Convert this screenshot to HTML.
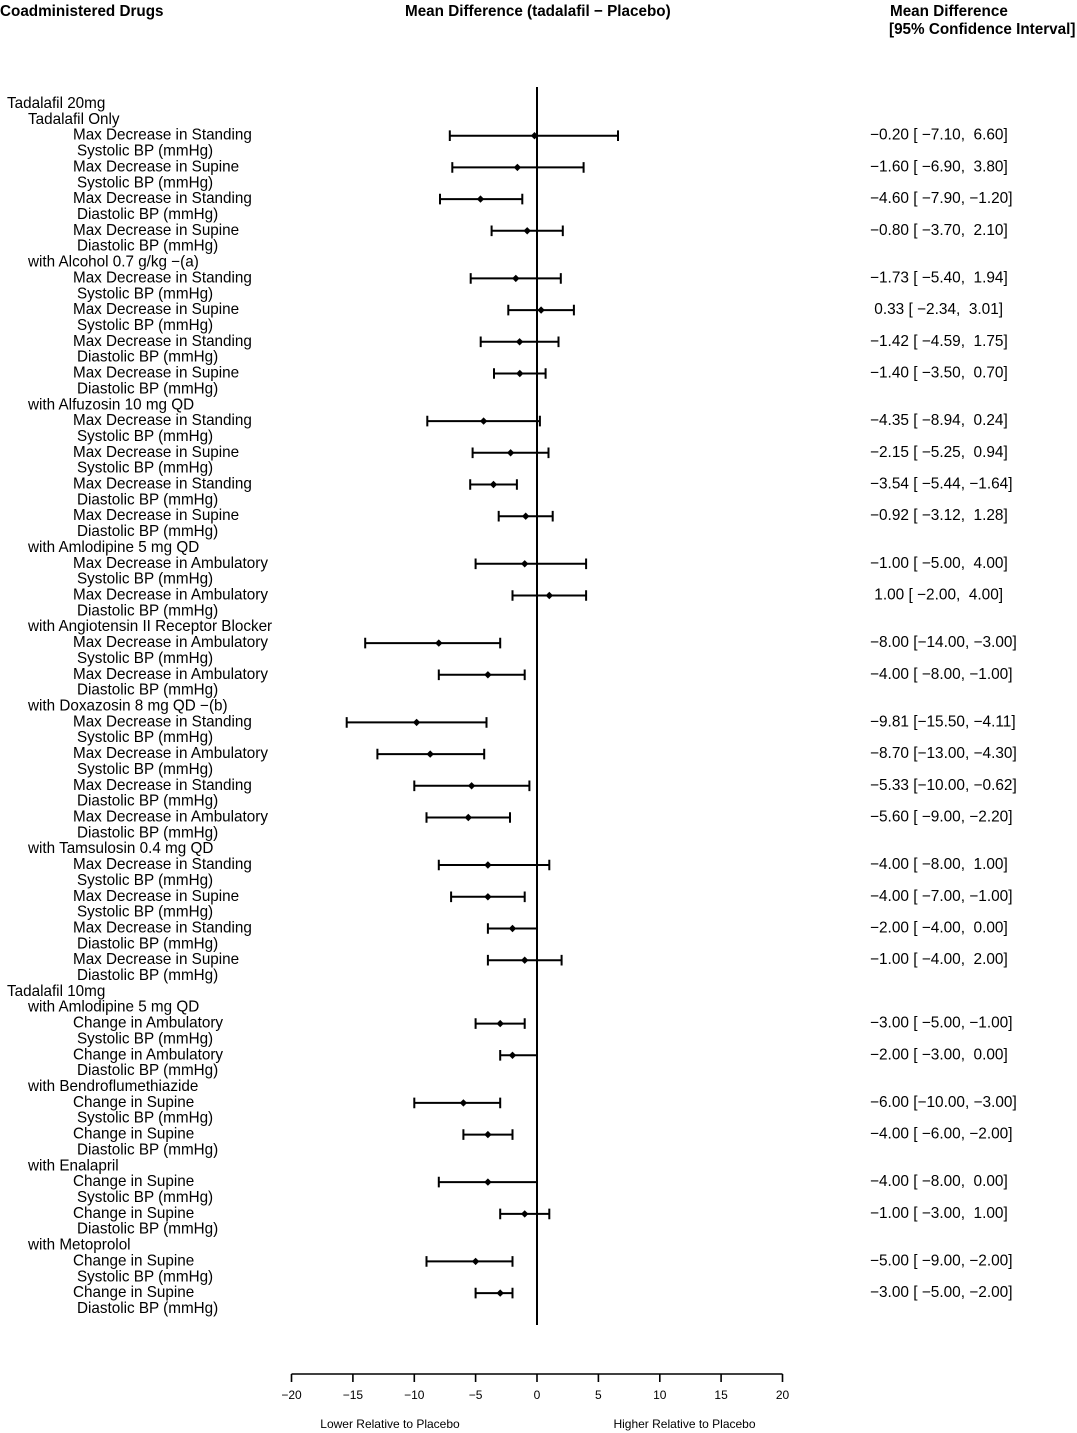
<!DOCTYPE html>
<html>
<head>
<meta charset="utf-8">
<style>
html,body{margin:0;padding:0;background:#fff;}
svg{display:block;}
text{font-family:"Liberation Sans",Arial,sans-serif;fill:#000;}
.h{font-weight:bold;font-size:15.25px;}
.l{font-size:15.25px;}
.v{font-size:15.4px;}
.t{font-size:12px;}
</style>
</head>
<body>
<svg width="1077" height="1433" viewBox="0 0 1077 1433" xmlns="http://www.w3.org/2000/svg">
<defs>
<path id="d" d="M0,-3.7 L3.7,0 L0,3.7 L-3.7,0Z" fill="#000"/>
</defs>
<rect width="1077" height="1433" fill="#fff"/>
<!-- headers -->
<text class="h" x="0" y="16">Coadministered Drugs</text>
<text class="h" x="405" y="16">Mean Difference (tadalafil − Placebo)</text>
<text class="h" x="890" y="16">Mean Difference</text>
<text class="h" x="889" y="34">[95% Confidence Interval]</text>

<!-- left labels -->
<g class="l">
<text class="l" x="7" y="108">Tadalafil 20mg</text>
<text class="l" x="28" y="123.9">Tadalafil Only</text>
<text class="l" x="73" y="139.7">Max Decrease in Standing</text>
<text class="l" x="77" y="155.6">Systolic BP (mmHg)</text>
<text class="l" x="73" y="171.4">Max Decrease in Supine</text>
<text class="l" x="77" y="187.3">Systolic BP (mmHg)</text>
<text class="l" x="73" y="203.1">Max Decrease in Standing</text>
<text class="l" x="77" y="219">Diastolic BP (mmHg)</text>
<text class="l" x="73" y="234.8">Max Decrease in Supine</text>
<text class="l" x="77" y="250.7">Diastolic BP (mmHg)</text>
<text class="l" x="28" y="266.6">with Alcohol 0.7 g/kg −(a)</text>
<text class="l" x="73" y="282.4">Max Decrease in Standing</text>
<text class="l" x="77" y="298.3">Systolic BP (mmHg)</text>
<text class="l" x="73" y="314.1">Max Decrease in Supine</text>
<text class="l" x="77" y="330">Systolic BP (mmHg)</text>
<text class="l" x="73" y="345.8">Max Decrease in Standing</text>
<text class="l" x="77" y="361.7">Diastolic BP (mmHg)</text>
<text class="l" x="73" y="377.5">Max Decrease in Supine</text>
<text class="l" x="77" y="393.4">Diastolic BP (mmHg)</text>
<text class="l" x="28" y="409.3">with Alfuzosin 10 mg QD</text>
<text class="l" x="73" y="425.1">Max Decrease in Standing</text>
<text class="l" x="77" y="441">Systolic BP (mmHg)</text>
<text class="l" x="73" y="456.8">Max Decrease in Supine</text>
<text class="l" x="77" y="472.7">Systolic BP (mmHg)</text>
<text class="l" x="73" y="488.5">Max Decrease in Standing</text>
<text class="l" x="77" y="504.4">Diastolic BP (mmHg)</text>
<text class="l" x="73" y="520.2">Max Decrease in Supine</text>
<text class="l" x="77" y="536.1">Diastolic BP (mmHg)</text>
<text class="l" x="28" y="551.9">with Amlodipine 5 mg QD</text>
<text class="l" x="73" y="567.8">Max Decrease in Ambulatory</text>
<text class="l" x="77" y="583.7">Systolic BP (mmHg)</text>
<text class="l" x="73" y="599.5">Max Decrease in Ambulatory</text>
<text class="l" x="77" y="615.4">Diastolic BP (mmHg)</text>
<text class="l" x="28" y="631.2">with Angiotensin II Receptor Blocker</text>
<text class="l" x="73" y="647.1">Max Decrease in Ambulatory</text>
<text class="l" x="77" y="662.9">Systolic BP (mmHg)</text>
<text class="l" x="73" y="678.8">Max Decrease in Ambulatory</text>
<text class="l" x="77" y="694.6">Diastolic BP (mmHg)</text>
<text class="l" x="28" y="710.5">with Doxazosin 8 mg QD −(b)</text>
<text class="l" x="73" y="726.4">Max Decrease in Standing</text>
<text class="l" x="77" y="742.2">Systolic BP (mmHg)</text>
<text class="l" x="73" y="758.1">Max Decrease in Ambulatory</text>
<text class="l" x="77" y="773.9">Systolic BP (mmHg)</text>
<text class="l" x="73" y="789.8">Max Decrease in Standing</text>
<text class="l" x="77" y="805.6">Diastolic BP (mmHg)</text>
<text class="l" x="73" y="821.5">Max Decrease in Ambulatory</text>
<text class="l" x="77" y="837.3">Diastolic BP (mmHg)</text>
<text class="l" x="28" y="853.2">with Tamsulosin 0.4 mg QD</text>
<text class="l" x="73" y="869">Max Decrease in Standing</text>
<text class="l" x="77" y="884.9">Systolic BP (mmHg)</text>
<text class="l" x="73" y="900.8">Max Decrease in Supine</text>
<text class="l" x="77" y="916.6">Systolic BP (mmHg)</text>
<text class="l" x="73" y="932.5">Max Decrease in Standing</text>
<text class="l" x="77" y="948.3">Diastolic BP (mmHg)</text>
<text class="l" x="73" y="964.2">Max Decrease in Supine</text>
<text class="l" x="77" y="980">Diastolic BP (mmHg)</text>
<text class="l" x="7" y="995.9">Tadalafil 10mg</text>
<text class="l" x="28" y="1011.7">with Amlodipine 5 mg QD</text>
<text class="l" x="73" y="1027.6">Change in Ambulatory</text>
<text class="l" x="77" y="1043.5">Systolic BP (mmHg)</text>
<text class="l" x="73" y="1059.3">Change in Ambulatory</text>
<text class="l" x="77" y="1075.2">Diastolic BP (mmHg)</text>
<text class="l" x="28" y="1091">with Bendroflumethiazide</text>
<text class="l" x="73" y="1106.9">Change in Supine</text>
<text class="l" x="77" y="1122.7">Systolic BP (mmHg)</text>
<text class="l" x="73" y="1138.6">Change in Supine</text>
<text class="l" x="77" y="1154.4">Diastolic BP (mmHg)</text>
<text class="l" x="28" y="1170.3">with Enalapril</text>
<text class="l" x="73" y="1186.1">Change in Supine</text>
<text class="l" x="77" y="1202">Systolic BP (mmHg)</text>
<text class="l" x="73" y="1217.9">Change in Supine</text>
<text class="l" x="77" y="1233.7">Diastolic BP (mmHg)</text>
<text class="l" x="28" y="1249.6">with Metoprolol</text>
<text class="l" x="73" y="1265.4">Change in Supine</text>
<text class="l" x="77" y="1281.3">Systolic BP (mmHg)</text>
<text class="l" x="73" y="1297.1">Change in Supine</text>
<text class="l" x="77" y="1313">Diastolic BP (mmHg)</text>
</g>

<!-- zero line -->
<line x1="537" y1="87" x2="537" y2="1325" stroke="#000" stroke-width="2"/>

<!-- CI bars -->
<g stroke="#000" stroke-width="2" fill="none">
<path d="M449.8,135.7H618M449.8,130.4V141M618,130.4V141"/>
<path d="M452.3,167.4H583.6M452.3,162.1V172.7M583.6,162.1V172.7"/>
<path d="M440,199.1H522.3M440,193.8V204.4M522.3,193.8V204.4"/>
<path d="M491.6,230.8H562.8M491.6,225.5V236.1M562.8,225.5V236.1"/>
<path d="M470.7,278.4H560.8M470.7,273.1V283.7M560.8,273.1V283.7"/>
<path d="M508.3,310.1H573.9M508.3,304.8V315.4M573.9,304.8V315.4"/>
<path d="M480.7,341.8H558.5M480.7,336.5V347.1M558.5,336.5V347.1"/>
<path d="M494,373.5H545.6M494,368.2V378.8M545.6,368.2V378.8"/>
<path d="M427.3,421.1H539.9M427.3,415.8V426.4M539.9,415.8V426.4"/>
<path d="M472.6,452.8H548.5M472.6,447.5V458.1M548.5,447.5V458.1"/>
<path d="M470.2,484.5H516.9M470.2,479.2V489.8M516.9,479.2V489.8"/>
<path d="M498.7,516.2H552.7M498.7,510.9V521.5M552.7,510.9V521.5"/>
<path d="M475.6,563.8H586.1M475.6,558.5V569.1M586.1,558.5V569.1"/>
<path d="M512.5,595.5H586.1M512.5,590.2V600.8M586.1,590.2V600.8"/>
<path d="M365.2,643.1H500.2M365.2,637.8V648.4M500.2,637.8V648.4"/>
<path d="M438.8,674.8H524.7M438.8,669.5V680.1M524.7,669.5V680.1"/>
<path d="M346.7,722.4H486.5M346.7,717.1V727.7M486.5,717.1V727.7"/>
<path d="M377.4,754.1H484.2M377.4,748.8V759.4M484.2,748.8V759.4"/>
<path d="M414.3,785.8H529.4M414.3,780.5V791.1M529.4,780.5V791.1"/>
<path d="M426.5,817.5H510M426.5,812.2V822.8M510,812.2V822.8"/>
<path d="M438.8,865H549.3M438.8,859.7V870.3M549.3,859.7V870.3"/>
<path d="M451.1,896.8H524.7M451.1,891.5V902.1M524.7,891.5V902.1"/>
<path d="M487.9,928.5H537M487.9,923.2V933.8M537,923.2V933.8"/>
<path d="M487.9,960.2H561.6M487.9,954.9V965.5M561.6,954.9V965.5"/>
<path d="M475.6,1023.6H524.7M475.6,1018.3V1028.9M524.7,1018.3V1028.9"/>
<path d="M500.2,1055.3H537M500.2,1050V1060.6M537,1050V1060.6"/>
<path d="M414.3,1102.9H500.2M414.3,1097.6V1108.2M500.2,1097.6V1108.2"/>
<path d="M463.4,1134.6H512.5M463.4,1129.3V1139.9M512.5,1129.3V1139.9"/>
<path d="M438.8,1182.1H537M438.8,1176.8V1187.4M537,1176.8V1187.4"/>
<path d="M500.2,1213.9H549.3M500.2,1208.6V1219.2M549.3,1208.6V1219.2"/>
<path d="M426.5,1261.4H512.5M426.5,1256.1V1266.7M512.5,1256.1V1266.7"/>
<path d="M475.6,1293.1H512.5M475.6,1287.8V1298.4M512.5,1287.8V1298.4"/>
</g>

<!-- point estimates -->
<g>
<use href="#d" x="534.5" y="135.7"/>
<use href="#d" x="517.4" y="167.4"/>
<use href="#d" x="480.5" y="199.1"/>
<use href="#d" x="527.2" y="230.8"/>
<use href="#d" x="515.8" y="278.4"/>
<use href="#d" x="541.1" y="310.1"/>
<use href="#d" x="519.6" y="341.8"/>
<use href="#d" x="519.8" y="373.5"/>
<use href="#d" x="483.6" y="421.1"/>
<use href="#d" x="510.6" y="452.8"/>
<use href="#d" x="493.5" y="484.5"/>
<use href="#d" x="525.7" y="516.2"/>
<use href="#d" x="524.7" y="563.8"/>
<use href="#d" x="549.3" y="595.5"/>
<use href="#d" x="438.8" y="643.1"/>
<use href="#d" x="487.9" y="674.8"/>
<use href="#d" x="416.6" y="722.4"/>
<use href="#d" x="430.2" y="754.1"/>
<use href="#d" x="471.6" y="785.8"/>
<use href="#d" x="468.3" y="817.5"/>
<use href="#d" x="487.9" y="865"/>
<use href="#d" x="487.9" y="896.8"/>
<use href="#d" x="512.5" y="928.5"/>
<use href="#d" x="524.7" y="960.2"/>
<use href="#d" x="500.2" y="1023.6"/>
<use href="#d" x="512.5" y="1055.3"/>
<use href="#d" x="463.4" y="1102.9"/>
<use href="#d" x="487.9" y="1134.6"/>
<use href="#d" x="487.9" y="1182.1"/>
<use href="#d" x="524.7" y="1213.9"/>
<use href="#d" x="475.6" y="1261.4"/>
<use href="#d" x="500.2" y="1293.1"/>
</g>

<!-- right column values -->
<g xml:space="preserve">
<text class="v" x="870" y="139.7" xml:space="preserve">−0.20 [ −7.10,  6.60]</text>
<text class="v" x="870" y="171.4" xml:space="preserve">−1.60 [ −6.90,  3.80]</text>
<text class="v" x="870" y="203.1" xml:space="preserve">−4.60 [ −7.90, −1.20]</text>
<text class="v" x="870" y="234.8" xml:space="preserve">−0.80 [ −3.70,  2.10]</text>
<text class="v" x="870" y="282.4" xml:space="preserve">−1.73 [ −5.40,  1.94]</text>
<text class="v" x="870" y="314.1" xml:space="preserve"> 0.33 [ −2.34,  3.01]</text>
<text class="v" x="870" y="345.8" xml:space="preserve">−1.42 [ −4.59,  1.75]</text>
<text class="v" x="870" y="377.5" xml:space="preserve">−1.40 [ −3.50,  0.70]</text>
<text class="v" x="870" y="425.1" xml:space="preserve">−4.35 [ −8.94,  0.24]</text>
<text class="v" x="870" y="456.8" xml:space="preserve">−2.15 [ −5.25,  0.94]</text>
<text class="v" x="870" y="488.5" xml:space="preserve">−3.54 [ −5.44, −1.64]</text>
<text class="v" x="870" y="520.2" xml:space="preserve">−0.92 [ −3.12,  1.28]</text>
<text class="v" x="870" y="567.8" xml:space="preserve">−1.00 [ −5.00,  4.00]</text>
<text class="v" x="870" y="599.5" xml:space="preserve"> 1.00 [ −2.00,  4.00]</text>
<text class="v" x="870" y="647.1" xml:space="preserve">−8.00 [−14.00, −3.00]</text>
<text class="v" x="870" y="678.8" xml:space="preserve">−4.00 [ −8.00, −1.00]</text>
<text class="v" x="870" y="726.4" xml:space="preserve">−9.81 [−15.50, −4.11]</text>
<text class="v" x="870" y="758.1" xml:space="preserve">−8.70 [−13.00, −4.30]</text>
<text class="v" x="870" y="789.8" xml:space="preserve">−5.33 [−10.00, −0.62]</text>
<text class="v" x="870" y="821.5" xml:space="preserve">−5.60 [ −9.00, −2.20]</text>
<text class="v" x="870" y="869" xml:space="preserve">−4.00 [ −8.00,  1.00]</text>
<text class="v" x="870" y="900.8" xml:space="preserve">−4.00 [ −7.00, −1.00]</text>
<text class="v" x="870" y="932.5" xml:space="preserve">−2.00 [ −4.00,  0.00]</text>
<text class="v" x="870" y="964.2" xml:space="preserve">−1.00 [ −4.00,  2.00]</text>
<text class="v" x="870" y="1027.6" xml:space="preserve">−3.00 [ −5.00, −1.00]</text>
<text class="v" x="870" y="1059.3" xml:space="preserve">−2.00 [ −3.00,  0.00]</text>
<text class="v" x="870" y="1106.9" xml:space="preserve">−6.00 [−10.00, −3.00]</text>
<text class="v" x="870" y="1138.6" xml:space="preserve">−4.00 [ −6.00, −2.00]</text>
<text class="v" x="870" y="1186.1" xml:space="preserve">−4.00 [ −8.00,  0.00]</text>
<text class="v" x="870" y="1217.9" xml:space="preserve">−1.00 [ −3.00,  1.00]</text>
<text class="v" x="870" y="1265.4" xml:space="preserve">−5.00 [ −9.00, −2.00]</text>
<text class="v" x="870" y="1297.1" xml:space="preserve">−3.00 [ −5.00, −2.00]</text>
</g>

<!-- x axis -->
<g stroke="#000" stroke-width="1.6" fill="none">
<path d="M291.5,1374H782.5"/>
<path d="M291.5,1374V1382M352.9,1374V1382M414.3,1374V1382M475.6,1374V1382M537,1374V1382M598.4,1374V1382M659.8,1374V1382M721.1,1374V1382M782.5,1374V1382"/>
</g>
<g text-anchor="middle">
<text class="t" x="291.5" y="1399">−20</text>
<text class="t" x="352.9" y="1399">−15</text>
<text class="t" x="414.3" y="1399">−10</text>
<text class="t" x="475.6" y="1399">−5</text>
<text class="t" x="537" y="1399">0</text>
<text class="t" x="598.4" y="1399">5</text>
<text class="t" x="659.8" y="1399">10</text>
<text class="t" x="721.1" y="1399">15</text>
<text class="t" x="782.5" y="1399">20</text>
<text class="t" x="390" y="1428">Lower Relative to Placebo</text>
<text class="t" x="684.5" y="1428">Higher Relative to Placebo</text>
</g>
</svg>
</body>
</html>
